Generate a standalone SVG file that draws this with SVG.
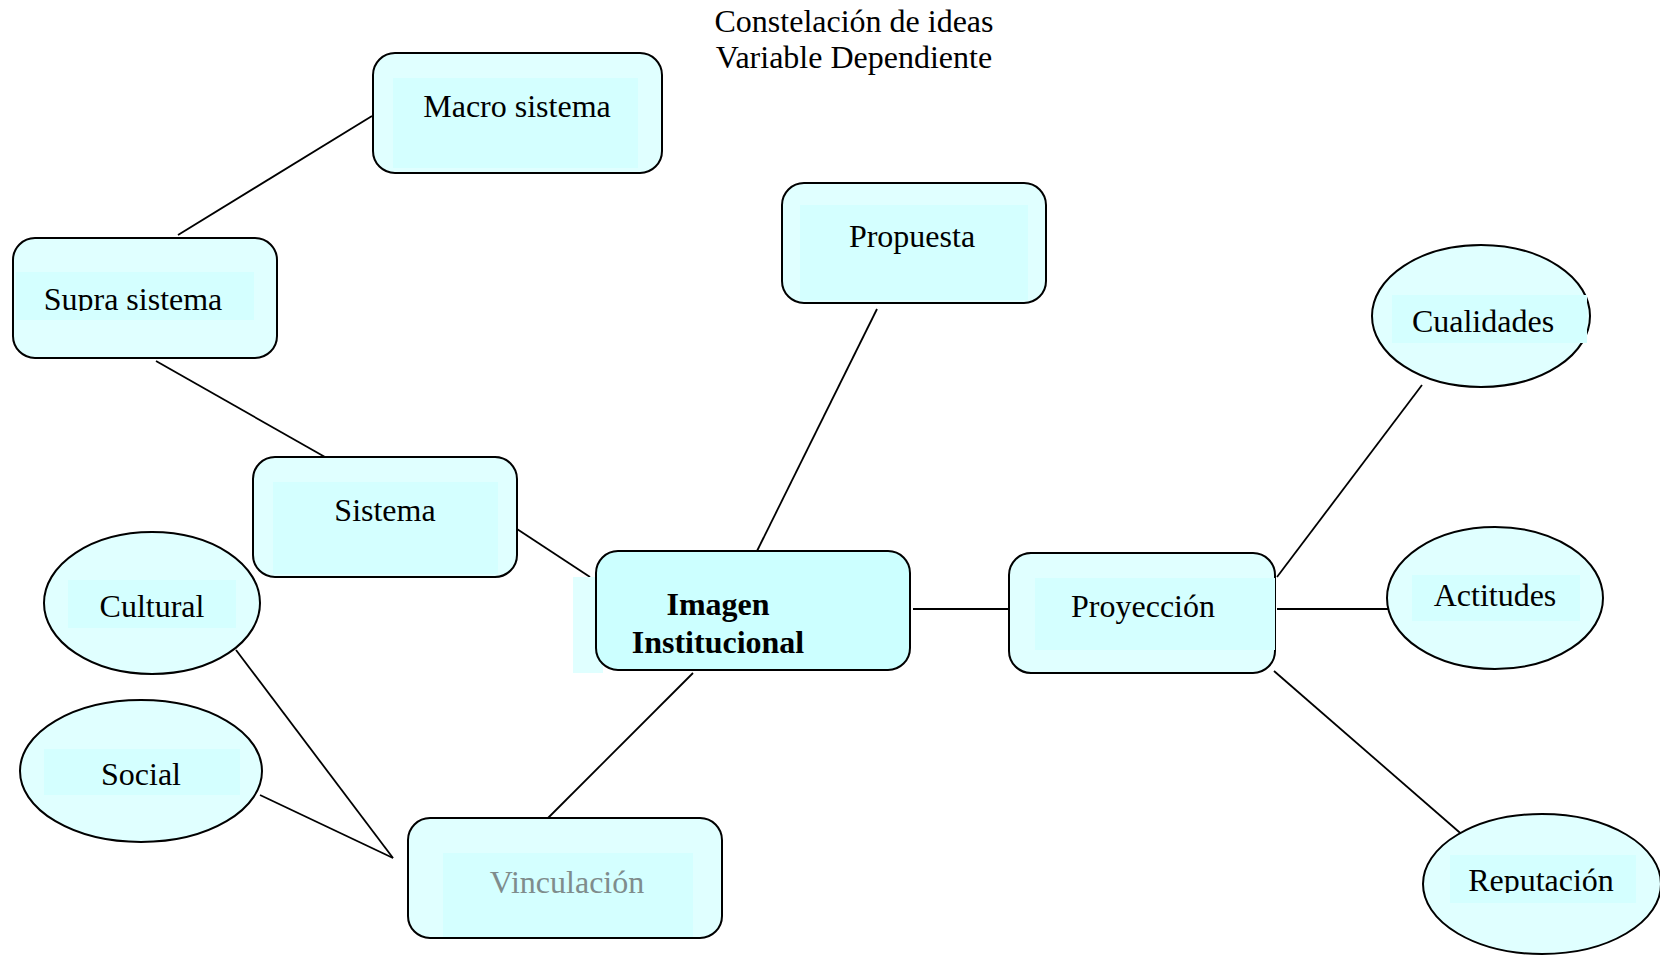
<svg xmlns="http://www.w3.org/2000/svg" width="1660" height="955" viewBox="0 0 1660 955">
<style>
.box{fill:#e0ffff;stroke:#000;stroke-width:2}
.ctr{fill:#ccffff;stroke:#000;stroke-width:2}
.inner{fill:#d4ffff;stroke:none}
.t{font-family:"Liberation Serif","Times New Roman",serif;font-size:32px;fill:#000;text-anchor:middle}
.b{font-weight:bold}
.g{fill:#7f8c8c}
.ln{stroke:#000;stroke-width:1.8;fill:none}
</style>
<defs>
<clipPath id="clipSupra"><rect x="0" y="200" width="300" height="111"/></clipPath>
<clipPath id="clipRep"><rect x="1400" y="800" width="260" height="93"/></clipPath>
</defs>
<g id="title">
<text class="t" x="854" y="32">Constelación de ideas</text>
<text class="t" x="854" y="68">Variable Dependiente</text>
</g>
<g id="connectors">
<line class="ln" x1="372" y1="116" x2="178" y2="235"/>
<line class="ln" x1="156" y1="361" x2="325" y2="457"/>
<line class="ln" x1="517" y1="529" x2="590" y2="577"/>
<line class="ln" x1="877" y1="309" x2="757" y2="551"/>
<line class="ln" x1="913" y1="609" x2="1009" y2="609"/>
<line class="ln" x1="693" y1="673" x2="548" y2="818"/>
<line class="ln" x1="236" y1="650" x2="393" y2="858"/>
<line class="ln" x1="260" y1="795" x2="393" y2="858"/>
<line class="ln" x1="1277" y1="577" x2="1422" y2="385"/>
<line class="ln" x1="1277" y1="609" x2="1397" y2="609"/>
<line class="ln" x1="1274" y1="671" x2="1466" y2="838"/>
</g>
<g id="macro">
<rect class="box" x="373" y="53" width="289" height="120" rx="22"/>
<rect class="inner" x="393" y="78" width="245" height="90"/>
<text class="t" x="517" y="117">Macro sistema</text>
</g>
<g id="supra">
<rect class="box" x="13" y="238" width="264" height="120" rx="22"/>
<rect class="inner" x="16" y="272" width="238" height="48"/>
<text class="t" x="133" y="310" clip-path="url(#clipSupra)">Supra sistema</text>
</g>
<g id="propuesta">
<rect class="box" x="782" y="183" width="264" height="120" rx="22"/>
<rect class="inner" x="800" y="205" width="228" height="95"/>
<text class="t" x="912" y="247">Propuesta</text>
</g>
<g id="sistema">
<rect class="box" x="253" y="457" width="264" height="120" rx="22"/>
<rect class="inner" x="273" y="482" width="225" height="92"/>
<text class="t" x="385" y="521">Sistema</text>
</g>
<g id="imagen">
<rect fill="#e0ffff" x="573" y="577" width="30" height="96"/>
<rect class="ctr" x="596" y="551" width="314" height="119" rx="22"/>
<text class="t b" x="718" y="615">Imagen</text>
<text class="t b" x="718" y="653">Institucional</text>
</g>
<g id="proyeccion">
<rect class="box" x="1009" y="553" width="266" height="120" rx="22"/>
<rect class="inner" x="1035" y="578" width="240" height="72"/>
<text class="t" x="1143" y="617">Proyección</text>
</g>
<g id="vinculacion">
<rect class="box" x="408" y="818" width="314" height="120" rx="22"/>
<rect class="inner" x="443" y="853" width="250" height="84"/>
<text class="t g" x="567" y="893">Vinculación</text>
</g>
<g id="cultural">
<ellipse class="box" cx="152" cy="603" rx="108" ry="71"/>
<rect class="inner" x="68" y="580" width="168" height="48"/>
<text class="t" x="152" y="617">Cultural</text>
</g>
<g id="social">
<ellipse class="box" cx="141" cy="771" rx="121" ry="71"/>
<rect class="inner" x="44" y="749" width="196" height="46"/>
<text class="t" x="141" y="785">Social</text>
</g>
<g id="cualidades">
<ellipse class="box" cx="1481" cy="316" rx="109" ry="71"/>
<rect class="inner" x="1392" y="295" width="195" height="48"/>
<text class="t" x="1483" y="332">Cualidades</text>
</g>
<g id="actitudes">
<ellipse class="box" cx="1495" cy="598" rx="108" ry="71"/>
<rect class="inner" x="1412" y="575" width="168" height="46"/>
<text class="t" x="1495" y="606">Actitudes</text>
</g>
<g id="reputacion">
<ellipse class="box" cx="1542" cy="884" rx="119" ry="70"/>
<rect class="inner" x="1450" y="855" width="186" height="48"/>
<text class="t" x="1541" y="891" clip-path="url(#clipRep)">Reputación</text>
</g>
</svg>
